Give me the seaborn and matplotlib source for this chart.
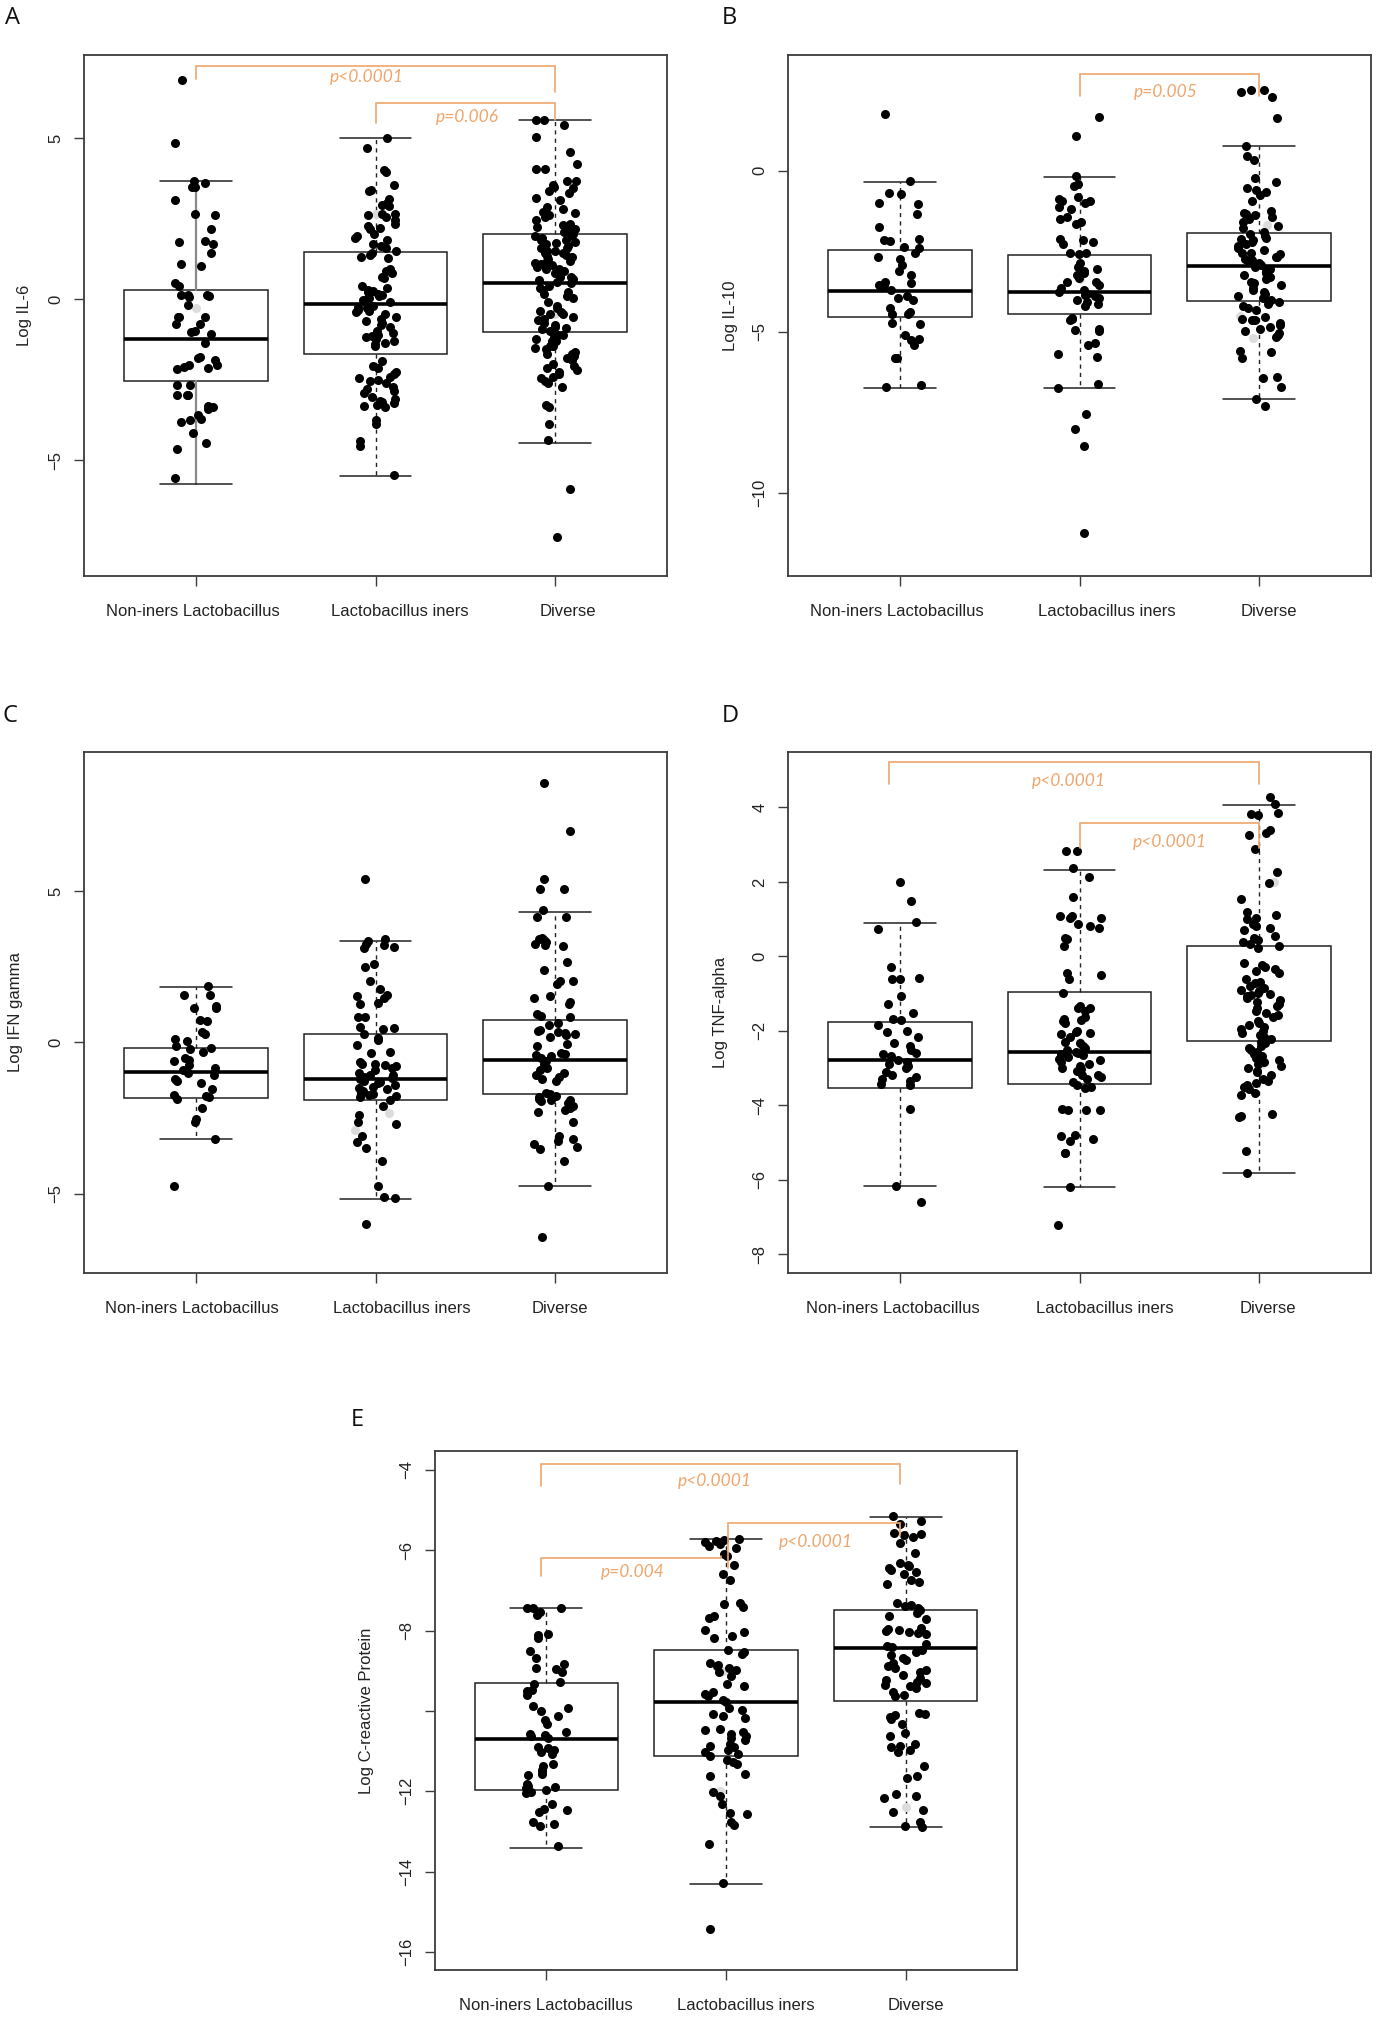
import numpy as np
import pandas as pd
import matplotlib
matplotlib.use("Agg")
import matplotlib.pyplot as plt
import matplotlib.transforms as mtrans
import seaborn as sns

# ---------------- data ----------------
categories = ["Non-iners Lactobacillus", "Lactobacillus iners", "Diverse"]

# Panel A: Log IL-6
il6_non = [6.8, 4.85, 3.67, 3.62, 3.47, 3.47, 3.08, 2.63, 2.6, 2.18, 1.82, 1.77, 1.7, 1.45, 1.1, 1.04,
           0.5, 0.41, 0.13, 0.13, 0.13, 0.1, 0.08, -0.19, -0.54, -0.54, -0.54, -0.77, -0.77, -0.99,
           -1.03, -1.07, -1.37, -1.78, -1.83, -1.88, -2.04, -2.04, -2.09, -2.14, -2.18, -2.65, -2.65,
           -2.97, -2.97, -2.97, -3.3, -3.36, -3.42, -3.59, -3.72, -3.76, -3.81, -4.14, -4.47, -4.64, -5.54]
il6_iners = [5.0, 4.68, 4.01, 3.95, 3.54, 3.40, 3.35, 3.12, 2.99, 2.92, 2.90, 2.65, 2.63, 2.60, 2.54,
             2.35, 2.28, 2.22, 2.19, 2.03, 1.96, 1.90, 1.83, 1.71, 1.64, 1.58, 1.42, 1.38, 1.32, 1.28,
             0.94, 0.87, 0.81, 0.68, 0.65, 0.42, 0.36, 0.29, 0.26, 0.23, 0.17, 0.13, 0.10, 0.04, -0.03,
             -0.09, -0.15, -0.22, -0.24, -0.28, -0.32, -0.37, -0.47, -0.54, -0.60, -0.67, -0.73, -0.79,
             -0.86, -0.99, -1.05, -1.14, -1.18, -1.24, -1.31, -1.37, -1.40, -1.44, -1.91, -2.08, -2.14,
             -2.27, -2.33, -2.40, -2.44, -2.50, -2.55, -2.72, -2.78, -2.85, -2.91, -3.04, -3.10, -3.17,
             -3.23, -3.29, -3.32, -3.36, -3.74, -3.87, -4.40, -4.54, -5.45, 2.45, 1.5, 0.05, -0.4, -1.1,
             -2.6, -3.2]
il6_div = [5.56, 5.56, 5.42, 5.04, 4.58, 4.19, 4.05, 4.05, 3.67, 3.67, 3.56, 3.47, 3.44, 3.37, 3.14,
           3.08, 2.86, 2.79, 2.67, 2.60, 2.54, 2.47, 2.35, 2.24, 2.18, 2.09, 2.03, 1.96, 1.90, 1.83,
           1.79, 1.71, 1.64, 1.58, 1.51, 1.45, 1.42, 1.38, 1.32, 1.26, 1.19, 1.13, 1.06, 1.0, 0.94,
           0.87, 0.81, 0.74, 0.68, 0.62, 0.55, 0.49, 0.42, 0.36, 0.29, 0.23, 0.17, 0.10, 0.04, -0.28,
           -0.35, -0.41, -0.47, -0.54, -0.60, -0.73, -0.79, -0.86, -0.92, -0.99, -1.12, -1.18, -1.24,
           -1.31, -1.37, -1.44, -1.50, -1.56, -1.63, -1.69, -1.76, -1.82, -2.01, -2.08, -2.14, -2.27,
           -2.33, -2.40, -2.53, -2.59, -2.72, -3.29, -3.36, -3.87, -4.38, -5.88, -7.37,
           1.95, 1.85, 1.75, 1.6, 1.5, 1.35, 1.2, 1.1, 0.95, 0.8, 0.7, 0.6, -0.1, -0.2, -0.45, -0.65,
           -0.9, -1.1, -1.3, -1.45, -1.7, -1.9, -2.2, -2.45, 2.7, 2.3, 2.15, 3.3]
il6_gray = [[-0.28], [2.65], [-0.47]]
il6_stats = [[-5.74, -2.55, -1.22, 0.28, 3.67],
             [-5.49, -1.71, -0.15, 1.47, 5.0],
             [-4.45, -1.01, 0.5, 2.03, 5.56]]

# Panel B: Log IL-10
il10_non = [1.77, -0.31, -0.68, -0.72, -1.0, -1.04, -1.36, -1.76, -2.13, -2.15, -2.18, -2.38, -2.41,
            -2.56, -2.69, -2.73, -2.92, -3.12, -3.24, -3.44, -3.5, -3.56, -3.56, -3.6, -3.69, -3.88,
            -3.95, -4.01, -4.27, -4.4, -4.46, -4.46, -4.72, -4.76, -5.1, -5.21, -5.26, -5.42, -5.81,
            -5.81, -5.81, -6.64, -6.71]
il10_iners = [1.68, 1.08, -0.18, -0.42, -0.49, -0.81, -0.87, -0.94, -0.94, -1.0, -1.13, -1.19, -1.45,
              -1.51, -1.58, -1.64, -2.13, -2.15, -2.22, -2.28, -2.54, -2.56, -2.6, -2.86, -2.99, -3.05,
              -3.12, -3.18, -3.24, -3.33, -3.44, -3.47, -3.56, -3.63, -3.69, -3.76, -3.82, -3.85, -3.88,
              -3.95, -4.01, -4.08, -4.14, -4.21, -4.56, -4.59, -4.65, -4.91, -4.94, -4.97, -5.36, -5.42,
              -5.68, -5.77, -6.62, -6.74, -7.54, -8.03, -8.53, -11.23]
il10_div = [2.49, 2.49, 2.44, 2.29, 1.63, 0.76, 0.45, 0.32, -0.23, -0.36, -0.55, -0.59, -0.65, -0.74,
            -0.94, -1.26, -1.32, -1.36, -1.38, -1.45, -1.51, -1.58, -1.71, -1.77, -1.9, -1.96, -2.03,
            -2.09, -2.13, -2.15, -2.22, -2.28, -2.35, -2.41, -2.47, -2.54, -2.56, -2.6, -2.67, -2.69,
            -2.73, -2.77, -2.79, -2.86, -2.92, -2.99, -3.05, -3.12, -3.18, -3.24, -3.31, -3.37, -3.44,
            -3.5, -3.56, -3.63, -3.69, -3.76, -3.82, -3.88, -3.95, -4.01, -4.08, -4.14, -4.21, -4.27,
            -4.33, -4.53, -4.59, -4.62, -4.65, -4.72, -4.78, -4.85, -4.91, -4.97, -5.04, -5.1, -5.17,
            -5.59, -5.62, -5.81, -6.41, -6.45, -6.71, -7.1, -7.31]
il10_gray = [[], [-3.35], [-1.7, -4.5, -5.2]]
il10_stats = [[-6.74, -4.55, -3.73, -2.46, -0.36],
              [-6.74, -4.44, -3.78, -2.63, -0.21],
              [-7.10, -4.05, -2.97, -1.95, 0.76]]

# Panel C: Log IFN gamma
ifn_non = [1.87, 1.56, 1.56, 1.19, 1.15, 1.12, 0.74, 0.71, 0.33, 0.27, 0.10, 0.03, -0.11, -0.18, -0.22,
           -0.31, -0.52, -0.59, -0.63, -0.75, -0.86, -0.93, -1.0, -1.09, -1.2, -1.27, -1.34, -1.54,
           -1.75, -1.78, -1.82, -1.86, -2.16, -2.53, -2.64, -3.21, -4.73]
ifn_iners = [5.38, 3.42, 3.36, 3.24, 3.2, 3.14, 3.13, 2.6, 2.49, 2.02, 1.75, 1.56, 1.53, 1.48, 1.31,
             1.26, 0.85, 0.82, 0.51, 0.48, 0.44, 0.27, 0.14, 0.07, -0.08, -0.31, -0.36, -0.66, -0.7,
             -0.72, -0.75, -0.79, -0.86, -0.93, -1.0, -1.07, -1.09, -1.13, -1.17, -1.2, -1.27, -1.31,
             -1.34, -1.41, -1.48, -1.5, -1.54, -1.61, -1.68, -1.72, -1.75, -1.78, -1.82, -1.89, -2.09,
             -2.4, -2.64, -2.71, -3.11, -3.29, -3.5, -3.93, -4.73, -5.1, -5.14, -6.01]
ifn_div = [8.57, 6.97, 5.4, 5.05, 5.05, 4.36, 4.15, 4.15, 3.44, 3.4, 3.37, 3.31, 3.24, 3.2, 3.17, 2.65,
           2.38, 2.02, 2.02, 1.91, 1.53, 1.46, 1.33, 1.26, 0.92, 0.87, 0.85, 0.64, 0.57, 0.41, 0.37,
           0.34, 0.3, 0.27, 0.23, 0.16, -0.04, -0.11, -0.36, -0.38, -0.41, -0.45, -0.52, -0.63, -0.72,
           -0.86, -0.93, -1.0, -1.09, -1.13, -1.2, -1.27, -1.68, -1.72, -1.78, -1.82, -1.86, -1.89,
           -1.91, -1.95, -2.02, -2.09, -2.16, -2.23, -2.3, -2.64, -3.11, -3.18, -3.25, -3.36, -3.46,
           -3.52, -3.93, -4.73, -6.42]
ifn_gray = [[], [-2.35, -2.9], []]
ifn_stats = [[-3.21, -1.83, -0.97, -0.19, 1.83],
             [-5.16, -1.91, -1.20, 0.26, 3.36],
             [-4.75, -1.72, -0.57, 0.75, 4.30]]

# Panel D: Log TNF-alpha
tnf_non = [1.99, 1.49, 0.92, 0.73, -0.29, -0.57, -0.6, -0.6, -1.07, -1.29, -1.51, -1.68, -1.71, -1.84,
           -2.01, -2.04, -2.16, -2.34, -2.42, -2.51, -2.59, -2.62, -2.68, -2.79, -2.84, -2.9, -2.96,
           -3.01, -3.12, -3.18, -3.23, -3.29, -3.34, -3.43, -3.46, -4.1, -6.16, -6.59]
tnf_iners = [2.84, 2.82, 2.38, 2.13, 1.6, 1.07, 1.07, 1.04, 1.02, 0.88, 0.82, 0.77, 0.49, 0.47, 0.27,
             -0.46, -0.49, -0.6, -0.99, -1.34, -1.38, -1.4, -1.46, -1.62, -1.68, -1.71, -1.73, -1.79,
             -2.01, -2.04, -2.07, -2.09, -2.18, -2.31, -2.34, -2.4, -2.46, -2.51, -2.57, -2.6, -2.62,
             -2.64, -2.71, -2.76, -2.79, -2.84, -2.9, -2.96, -3.01, -3.04, -3.07, -3.18, -3.2, -3.23,
             -3.29, -3.38, -3.46, -3.51, -3.54, -4.09, -4.12, -4.12, -4.12, -4.79, -4.82, -4.9, -4.96,
             -5.29, -5.29, -6.2, -7.23]
tnf_div = [4.27, 4.1, 3.84, 3.82, 3.8, 3.4, 3.3, 3.27, 2.88, 2.27, 1.97, 1.54, 1.18, 1.12, 1.04, 0.99,
           0.88, 0.82, 0.77, 0.71, 0.54, 0.49, 0.43, 0.38, 0.32, 0.27, 0.23, -0.18, -0.23, -0.29,
           -0.34, -0.4, -0.46, -0.62, -0.68, -0.73, -0.79, -0.84, -0.9, -0.93, -0.98, -1.01, -1.04,
           -1.07, -1.12, -1.18, -1.23, -1.29, -1.34, -1.4, -1.46, -1.51, -1.57, -1.62, -1.73, -1.79,
           -1.84, -1.9, -1.96, -2.01, -2.07, -2.12, -2.18, -2.23, -2.29, -2.34, -2.4, -2.46, -2.51,
           -2.57, -2.62, -2.68, -2.73, -2.79, -2.84, -2.9, -2.96, -3.01, -3.07, -3.12, -3.18, -3.29,
           -3.34, -3.4, -3.46, -3.51, -3.57, -3.68, -3.73, -4.23, -4.29, -4.31, -5.23, -5.82]
tnf_gray = [[], [-2.3], [2.0, -2.9]]
tnf_stats = [[-6.18, -3.53, -2.78, -1.77, 0.90],
             [-6.20, -3.42, -2.58, -0.97, 2.32],
             [-5.82, -2.27, -1.10, 0.28, 4.07]]

# Panel E: Log C-reactive Protein
crp_non = [-7.43, -7.45, -7.45, -7.54, -7.62, -8.08, -8.11, -8.18, -8.5, -8.69, -8.83, -8.93, -8.96,
           -9.03, -9.28, -9.33, -9.48, -9.51, -9.61, -9.88, -9.93, -10.01, -10.13, -10.23, -10.32,
           -10.52, -10.57, -10.6, -10.62, -10.67, -10.9, -10.92, -10.97, -11.02, -11.07, -11.32,
           -11.37, -11.47, -11.5, -11.57, -11.6, -11.82, -11.87, -11.9, -11.92, -11.97, -12.02,
           -12.04, -12.32, -12.44, -12.47, -12.52, -12.77, -12.81, -12.86, -13.36]
crp_iners = [-5.72, -5.74, -5.76, -5.79, -5.84, -5.89, -5.94, -6.09, -6.14, -6.36, -6.59, -6.74, -7.31,
             -7.34, -7.42, -7.64, -7.69, -7.98, -8.03, -8.13, -8.18, -8.48, -8.53, -8.58, -8.81, -8.85,
             -8.88, -8.93, -8.98, -9.03, -9.13, -9.33, -9.38, -9.53, -9.58, -9.63, -9.73, -9.78, -9.93,
             -9.98, -10.08, -10.13, -10.18, -10.44, -10.47, -10.52, -10.57, -10.62, -10.67, -10.72,
             -10.82, -10.87, -10.9, -10.97, -11.02, -11.07, -11.12, -11.22, -11.27, -11.32, -11.57,
             -11.62, -12.02, -12.12, -12.32, -12.54, -12.57, -12.77, -12.83, -13.31, -14.29, -15.43]
crp_div = [-5.15, -5.27, -5.34, -5.56, -5.59, -5.62, -5.66, -5.82, -6.06, -6.32, -6.37, -6.39, -6.44,
           -6.49, -6.54, -6.59, -6.74, -6.79, -6.84, -7.32, -7.36, -7.39, -7.44, -7.49, -7.56, -7.64,
           -7.72, -7.93, -7.95, -7.98, -8.01, -8.03, -8.05, -8.08, -8.33, -8.38, -8.41, -8.48, -8.53,
           -8.61, -8.68, -8.73, -8.81, -8.88, -8.93, -8.98, -9.03, -9.11, -9.18, -9.23, -9.28, -9.31,
           -9.35, -9.38, -9.43, -9.53, -9.61, -9.63, -10.05, -10.08, -10.11, -10.15, -10.21, -10.32,
           -10.54, -10.62, -10.82, -10.87, -10.9, -10.97, -11.02, -11.37, -11.62, -11.67, -12.07,
           -12.12, -12.17, -12.47, -12.52, -12.77, -12.86, -12.88]
crp_gray = [[], [-9.0, -12.0], [-12.4]]
crp_stats = [[-13.41, -11.97, -10.71, -9.31, -7.45],
             [-14.31, -11.12, -9.78, -8.48, -5.72],
             [-12.88, -9.75, -8.44, -7.48, -5.18]]

# significance brackets: (x_left, x_right, y_top, y_left_end, y_right_end, label, label_x, label_y)
il6_brackets = [(0, 2, 7.24, 6.83, 6.44, "p<0.0001", 0.95, 6.89),
                (1, 2, 6.08, 5.48, 5.56, "p=0.006", 1.51, 5.66)]
il10_brackets = [(1, 2, 3.01, 2.31, 2.31, "p=0.005", 1.48, 2.45)]
ifn_brackets = []
tnf_brackets = [(-0.06, 2.0, 5.23, 4.62, 4.62, "p<0.0001", 0.94, 4.71),
                (1.0, 2.0, 3.58, 2.91, 2.91, "p<0.0001", 1.50, 3.07)]
crp_brackets = [(-0.03, 1.97, -3.85, -4.40, -4.35, "p<0.0001", 0.94, -4.28),
                (1.01, 1.97, -5.32, -6.45, -5.64, "p<0.0001", 1.50, -5.79),
                (-0.03, 0.97, -6.19, -6.64, -6.15, "p=0.004", 0.48, -6.54)]

# ---------------- style ----------------
sns.set_theme(style="white")
plt.rcParams["font.family"] = ["Liberation Sans", "DejaVu Sans"]

ORANGE = "#EFA66C"
FRAME = "#3c3c3c"

fig = plt.figure(figsize=(13.84, 20.22), dpi=100)
W, H = 1384.0, 2022.0


def rect(x0, y0, x1, y1):
    return [x0 / W, 1 - y1 / H, (x1 - x0) / W, (y1 - y0) / H]


panels = [
    dict(letter="A", rect=rect(84, 55, 667, 576), groups=[il6_non, il6_iners, il6_div], gray=il6_gray,
         stats=il6_stats, ylim=(-8.59, 7.58), yticks=[-5, 0, 5], ylabel="Log IL-6",
         brackets=il6_brackets, ylab_dx=59, lab_dx=[-3, 24, 12], letter_xy=(5, 6)),
    dict(letter="B", rect=rect(788, 55, 1371, 576), groups=[il10_non, il10_iners, il10_div], gray=il10_gray,
         stats=il10_stats, ylim=(-12.58, 3.59), yticks=[-10, -5, 0], ylabel="Log IL-10",
         brackets=il10_brackets, ylab_dx=57, lab_dx=[-3, 27, 9], letter_xy=(722, 6)),
    dict(letter="C", rect=rect(84, 752, 667, 1273), groups=[ifn_non, ifn_iners, ifn_div], gray=ifn_gray,
         stats=ifn_stats, ylim=(-7.62, 9.59), yticks=[-5, 0, 5], ylabel="Log IFN gamma",
         brackets=ifn_brackets, ylab_dx=68, lab_dx=[-4, 26, 4], letter_xy=(3, 704)),
    dict(letter="D", rect=rect(788, 752, 1371, 1273), groups=[tnf_non, tnf_iners, tnf_div], gray=tnf_gray,
         stats=tnf_stats, ylim=(-8.51, 5.49), yticks=[-8, -6, -4, -2, 0, 2, 4], ylabel="Log TNF-alpha",
         brackets=tnf_brackets, ylab_dx=67, lab_dx=[-7, 25, 8], letter_xy=(722, 704)),
    dict(letter="E", rect=rect(435, 1451, 1017, 1970), groups=[crp_non, crp_iners, crp_div], gray=crp_gray,
         stats=crp_stats, ylim=(-16.45, -3.53), yticks=[-16, -14, -12, -10, -8, -6, -4],
         ytl=["\u221216", "\u221214", "\u221212", "", "\u22128", "\u22126", "\u22124"],
         ylabel="Log C-reactive Protein", brackets=crp_brackets, ylab_dx=69, lab_dx=[0, 20, 10],
         letter_xy=(351, 1408)),
]

for k, p in enumerate(panels):
    ax = fig.add_axes(p["rect"])
    df = pd.DataFrame({
        "group": np.repeat(categories, [len(g) for g in p["groups"]]),
        "value": np.concatenate([np.asarray(g, float) for g in p["groups"]]),
    })
    np.random.seed(11 + k)
    sns.stripplot(data=df, x="group", y="value", order=categories, color="black", size=6.5,
                  jitter=0.12, linewidth=0, ax=ax, zorder=4)
    gray_df = pd.DataFrame({
        "group": np.repeat(categories, [len(g) for g in p["gray"]]),
        "value": np.concatenate([np.asarray(g, float) for g in p["gray"]]),
    })
    np.random.seed(50 + k)
    sns.stripplot(data=gray_df, x="group", y="value", order=categories, color="#dcdcdc", size=6.5,
                  jitter=0.12, linewidth=0, ax=ax, zorder=3.5)

    bstats = [dict(whislo=s[0], q1=s[1], med=s[2], q3=s[3], whishi=s[4], fliers=[], label=c)
              for s, c in zip(p["stats"], categories)]
    res = ax.bxp(bstats, positions=[0, 1, 2], widths=0.8, capwidths=0.4, showfliers=False,
                 patch_artist=True, manage_ticks=False,
                 boxprops=dict(facecolor="white", edgecolor="#222222", linewidth=1.1),
                 medianprops=dict(color="black", linewidth=2.6, solid_capstyle="butt"),
                 whiskerprops=dict(color="#222222", linewidth=1.0, linestyle=(0, (3, 3))),
                 capprops=dict(color="#222222", linewidth=1.1), zorder=2)
    if p["letter"] == "A":
        for w in res["whiskers"][:2]:
            w.set_linestyle("-")
            w.set_color("#8a8a8a")
            w.set_linewidth(1.6)
    if p["letter"] == "D":
        res["medians"][2].set_visible(False)

    for (x1, x2, yt, yl, yr, lab, lx, ly) in p["brackets"]:
        ax.plot([x1, x1, x2, x2], [yl, yt, yt, yr], color=ORANGE, lw=1.2, zorder=5,
                solid_joinstyle="miter")
        ax.text(lx, ly, lab, color=ORANGE, fontsize=12.5, style="italic", ha="center", va="center",
                family=["Lato", "DejaVu Sans"], zorder=6)

    ax.set_xlim(-0.62, 2.62)
    ax.set_ylim(*p["ylim"])
    ax.set_xticks([0, 1, 2])
    ax.set_xticklabels(categories)
    ax.set_yticks(p["yticks"])
    if "ytl" in p:
        ax.set_yticklabels(p["ytl"])
    ax.set_xlabel("")
    ax.set_ylabel(p["ylabel"], fontsize=12, color="#222222")
    ax.yaxis.label.set_va("center")
    axw = p["rect"][2] * W
    ax.yaxis.set_label_coords(-p["ylab_dx"] / axw, 0.5)

    ax.tick_params(axis="both", which="both", direction="out", length=7, width=1.0, color=FRAME,
                   labelsize=12, labelcolor="#222222", bottom=True, left=True)
    ax.tick_params(axis="x", pad=13)
    ax.tick_params(axis="y", pad=8, labelrotation=90)
    for lbl in ax.get_yticklabels():
        lbl.set_va("center")
    for lbl, dx in zip(ax.get_xticklabels(), p["lab_dx"]):
        lbl.set_transform(lbl.get_transform() + mtrans.ScaledTranslation(dx / 100.0, 0, fig.dpi_scale_trans))
    for sp in ax.spines.values():
        sp.set_color(FRAME)
        sp.set_linewidth(1.3)
        sp.set_visible(True)
    ax.grid(False)

    lx, ly = p["letter_xy"]
    fig.text(lx / W, 1 - ly / H, p["letter"], fontsize=17, ha="left", va="top",
             family=["Open Sans", "DejaVu Sans"], color="#111111")

fig.savefig("out.png", dpi=100, facecolor="white")
